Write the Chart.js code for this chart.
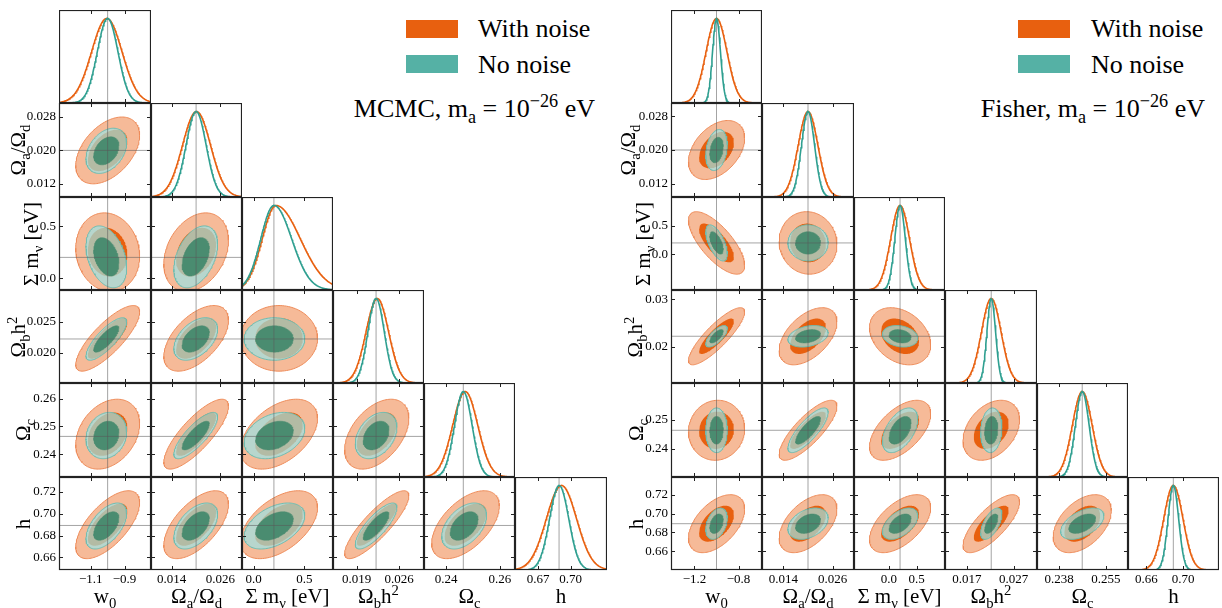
<!DOCTYPE html>
<html>
<head>
<meta charset="utf-8">
<title>Corner plots - MCMC vs Fisher</title>
<script src="https://cdn.jsdelivr.net/npm/chart.js@4.4.1/dist/chart.umd.min.js"></script>
<style>
  body { margin: 0; background: #fff; }
  #page { position: relative; width: 1222px; height: 608px; overflow: hidden;
          font-family: 'Liberation Serif', 'DejaVu Serif', serif; color: #000; }
  .cell { position: absolute; }
  .lbl { position: absolute; white-space: nowrap; font-size: 21px; line-height: 1;
         transform: translate(-50%, -50%); }
  .rot { transform: translate(-50%, -50%) rotate(-90deg); }
  .big { position: absolute; white-space: nowrap; font-size: 26px; line-height: 26px; }
  .sw { position: absolute; width: 52px; height: 18px; }
  sub, sup { font-size: 70%; line-height: 0; }
</style>
</head>
<body>
<div id="page"></div>
<script>
/* === Corner plots: MCMC (gauche) et Fisher (droite), m_a = 1e-26 eV === */

// Parametres (ordre des lignes / colonnes)
const paramLabels = ['w<sub>0</sub>', 'Ω<sub>a</sub>/Ω<sub>d</sub>', 'Σ m<sub>ν</sub> [eV]',
                     'Ω<sub>b</sub>h<sup>2</sup>', 'Ω<sub>c</sub>', 'h'];
const fiducial = [-1.0, 0.020, 0.20, 0.0222, 0.2464, 0.6893];
// paires (ligne, colonne) du triangle inferieur
const pairs = [[1,0],[2,0],[2,1],[3,0],[3,1],[3,2],[4,0],[4,1],[4,2],[4,3],[5,0],[5,1],[5,2],[5,3],[5,4]];

// --- MCMC ---
const mcmcMin = [-1.287, 0.0089, -0.115, 0.0151, 0.2318, 0.6485];
const mcmcMax = [-0.744, 0.0313, 0.783, 0.0301, 0.2656, 0.7337];
const mcmcXTicks = [[-1.1, -0.9], [0.014, 0.026], [0.0, 0.5], [0.019, 0.026], [0.24, 0.26], [0.67, 0.70]];
const mcmcXLabels = [['−1.1', '−0.9'], ['0.014', '0.026'], ['0.0', '0.5'], ['0.019', '0.026'], ['0.24', '0.26'], ['0.67', '0.70']];
const mcmcYTicks = [[], [0.012, 0.020, 0.028], [0.0, 0.5], [0.020, 0.025], [0.24, 0.25, 0.26], [0.66, 0.68, 0.70, 0.72]];
const mcmcYLabels = [[], ['0.012', '0.020', '0.028'], ['0.0', '0.5'], ['0.020', '0.025'], ['0.24', '0.25', '0.26'], ['0.66', '0.68', '0.70', '0.72']];
const mcmcCenterNoise = [-1.000, 0.0200, 0.250, 0.0223, 0.2472, 0.6900];
const mcmcCenterClean = [-1.008, 0.0199, 0.205, 0.0222, 0.2467, 0.6888];
const mcmcSigmaNoise = [0.077, 0.00325, 0.155, 0.00216, 0.00513, 0.0127];
const mcmcSigmaClean = [0.049, 0.00220, 0.122, 0.00140, 0.00340, 0.0086];
const mcmcRhoNoise = [0.45, -0.10, 0.30, 0.80, 0.55, 0.00, 0.30, 0.80, 0.45, 0.45, 0.65, 0.60, 0.50, 0.85, 0.55];
const mcmcRhoClean = [0.35, -0.35, 0.40, 0.80, 0.45, 0.00, 0.15, 0.80, 0.30, 0.35, 0.55, 0.50, 0.45, 0.80, 0.45];
// 1D : [pic, sigma gauche, sigma droite]
const mcmc1dNoise = [[-1.005, 0.090, 0.090], [0.0201, 0.00345, 0.00345], [0.22, 0.135, 0.24],
                     [0.0224, 0.00186, 0.00186], [0.2471, 0.00466, 0.00466], [0.6915, 0.0140, 0.0140]];
const mcmc1dClean = [[-1.000, 0.061, 0.061], [0.0200, 0.00248, 0.00248], [0.20, 0.13, 0.175],
                     [0.0222, 0.00135, 0.00135], [0.2464, 0.00327, 0.00327], [0.6894, 0.0089, 0.0089]];

// --- Fisher ---
const fisherMin = [-1.413, 0.0088, -0.63, 0.0123, 0.2300, 0.640];
const fisherMax = [-0.587, 0.0312, 1.01, 0.0320, 0.2630, 0.739];
const fisherXTicks = [[-1.2, -0.8], [0.014, 0.026], [0.0, 0.5], [0.017, 0.027], [0.238, 0.255], [0.66, 0.70]];
const fisherXLabels = [['−1.2', '−0.8'], ['0.014', '0.026'], ['0.0', '0.5'], ['0.017', '0.027'], ['0.238', '0.255'], ['0.66', '0.70']];
const fisherYTicks = [[], [0.012, 0.020, 0.028], [0.0, 0.5], [0.02, 0.03], [0.24, 0.25], [0.66, 0.68, 0.70, 0.72]];
const fisherYLabels = [[], ['0.012', '0.020', '0.028'], ['0.0', '0.5'], ['0.02', '0.03'], ['0.24', '0.25'], ['0.66', '0.68', '0.70', '0.72']];
const fisherSigmaNoise = [0.104, 0.00287, 0.225, 0.00247, 0.0043, 0.0126];
const fisherSigmaClean = [0.040, 0.00200, 0.130, 0.00093, 0.0032, 0.0068];
const fisherRhoNoise = [0.40, -0.72, -0.05, 0.85, 0.50, -0.30, 0.05, 0.80, 0.55, 0.35, 0.50, 0.50, 0.55, 0.75, 0.45];
const fisherRhoClean = [0.25, -0.62, 0.00, 0.70, 0.30, -0.20, 0.00, 0.80, 0.50, 0.10, 0.35, 0.35, 0.50, 0.60, 0.50];
const fisher1dNoise = [[-1.0, 0.095, 0.095], [0.020, 0.0024, 0.0024], [0.20, 0.17, 0.17],
                       [0.0222, 0.0021, 0.0021], [0.2464, 0.0036, 0.0036], [0.6893, 0.0105, 0.0105]];
const fisher1dClean = [[-1.0, 0.036, 0.036], [0.020, 0.0016, 0.0016], [0.20, 0.095, 0.095],
                       [0.0222, 0.00093, 0.00093], [0.2464, 0.0025, 0.0025], [0.6893, 0.0058, 0.0058]];

// Couleurs
const ORANGE = '#e8600f';
const ORANGE_LIGHT = '#f6ba98';
const ORANGE_EDGE = '#ee8c5a';
const TEAL_LINE = '#2e9f90';
const TEAL_SWATCH = '#55b1a5';
const TEAL_FILL = 'rgba(157,226,228,0.7)';
const TEAL_EDGE = '#6fbdb1';
const TEAL_DARK = '#4a8c70';
const FID = 'rgba(90,90,90,0.55)';

// Geometrie
const ROW_TOP = 10, ROW_H = 93.33, MB = 30;
const K_IN = 1.52, K_OUT = 2.45;
const TICK_FONT = { family: "'Liberation Serif', serif", size: 13 };

const page = document.getElementById('page');
Chart.defaults.font.family = "'Liberation Serif', serif";

const panels = [
  { x0: 59.3, w: 91.2, ml: 59, min: mcmcMin, max: mcmcMax,
    xTicks: mcmcXTicks, xLabels: mcmcXLabels, yTicks: mcmcYTicks, yLabels: mcmcYLabels,
    noise: { c: mcmcCenterNoise, s: mcmcSigmaNoise, rho: mcmcRhoNoise, m1: mcmc1dNoise },
    clean: { c: mcmcCenterClean, s: mcmcSigmaClean, rho: mcmcRhoClean, m1: mcmc1dClean },
    ylabX: [0, 18, 30.5, 17.5, 23, 23] },
  { x0: 671, w: 91.4, ml: 50, min: fisherMin, max: fisherMax,
    xTicks: fisherXTicks, xLabels: fisherXLabels, yTicks: fisherYTicks, yLabels: fisherYLabels,
    noise: { c: fiducial, s: fisherSigmaNoise, rho: fisherRhoNoise, m1: fisher1dNoise },
    clean: { c: fiducial, s: fisherSigmaClean, rho: fisherRhoClean, m1: fisher1dClean },
    ylabX: [0, 628, 642.5, 635, 635.5, 636] }
];

function edge(x0, w, i) { return Math.round(x0 + i * w); }

// Cadre + petites graduations vers l'interieur
const cellFrame = {
  id: 'cellFrame',
  afterDraw(chart, args, opts) {
    const { ctx, chartArea: a } = chart;
    const xs = chart.scales.x, ys = chart.scales.y;
    ctx.save();
    ctx.strokeStyle = '#222';
    ctx.lineWidth = 1;
    ctx.beginPath();
    (opts.xTicks || []).forEach(v => {
      const px = Math.round(xs.getPixelForValue(v)) + 0.5;
      ctx.moveTo(px, a.top); ctx.lineTo(px, a.top + 4);
      ctx.moveTo(px, a.bottom); ctx.lineTo(px, a.bottom - 4);
    });
    (opts.yTicks || []).forEach(v => {
      const py = Math.round(ys.getPixelForValue(v)) + 0.5;
      ctx.moveTo(a.left, py); ctx.lineTo(a.left + 4, py);
      ctx.moveTo(a.right, py); ctx.lineTo(a.right - 4, py);
    });
    ctx.stroke();
    ctx.lineWidth = 1.2;
    ctx.strokeRect(a.left + 0.5, a.top + 0.5, a.right - a.left - 1, a.bottom - a.top - 1);
    ctx.restore();
  }
};

// Ellipse de confiance : arc haut et arc bas (x croissant), remplis entre eux
function ellipseArcs(cx, cy, sx, sy, rho, k) {
  const upper = [], lower = [];
  const q = Math.sqrt(1 - rho * rho);
  const n = 64;
  for (let i = 0; i <= n; i++) {
    const t = Math.PI - Math.PI * i / n;
    const u = Math.PI + Math.PI * i / n;
    upper.push({ x: cx + k * sx * Math.cos(t), y: cy + k * sy * (rho * Math.cos(t) + q * Math.sin(t)) });
    lower.push({ x: cx + k * sx * Math.cos(u), y: cy + k * sy * (rho * Math.cos(u) + q * Math.sin(u)) });
  }
  return [upper, lower];
}

function contourSets(arcs, fillColor, edgeColor, bw, order) {
  return [
    { data: arcs[0], borderColor: edgeColor, borderWidth: bw, fill: false, order },
    { data: arcs[1], borderColor: edgeColor, borderWidth: bw, fill: '-1', backgroundColor: fillColor, order }
  ];
}

// Distribution 1D (gaussienne, eventuellement asymetrique)
function marginal(m, lo, hi) {
  const [mu, sL, sR] = m;
  const pts = [];
  for (let i = 0; i <= 160; i++) {
    const x = lo + (hi - lo) * i / 160;
    const s = x < mu ? sL : sR;
    pts.push({ x, y: Math.exp(-0.5 * ((x - mu) / s) ** 2) });
  }
  return pts;
}

function addCell(P, r, c) {
  const left = edge(P.x0, P.w, c), right = edge(P.x0, P.w, c + 1);
  const top = edge(ROW_TOP, ROW_H, r), bottom = edge(ROW_TOP, ROW_H, r + 1);
  const showY = c === 0 && r > 0;
  const showX = r === 5;
  const ml = showY ? P.ml : 0;
  const mb = showX ? MB : 0;

  const box = document.createElement('div');
  box.className = 'cell';
  const w = right - left + ml, h = bottom - top + mb;
  box.style.cssText = `left:${left - ml}px;top:${top}px;width:${w}px;height:${h}px`;
  const canvas = document.createElement('canvas');
  box.appendChild(canvas);
  page.appendChild(box);

  const diag = r === c;
  const datasets = [];
  const fidV = [{ x: fiducial[c], y: diag ? 0 : P.min[r] }, { x: fiducial[c], y: diag ? 1.1 : P.max[r] }];
  datasets.push({ data: fidV, borderColor: FID, borderWidth: 1, fill: false, order: diag ? 9 : 1 });

  if (diag) {
    datasets.push({ data: marginal(P.noise.m1[c], P.min[c], P.max[c]), borderColor: ORANGE, borderWidth: 1.6, fill: false, order: 3 });
    datasets.push({ data: marginal(P.clean.m1[c], P.min[c], P.max[c]), borderColor: TEAL_LINE, borderWidth: 1.6, fill: false, order: 2 });
  } else {
    const k = pairs.findIndex(p => p[0] === r && p[1] === c);
    const N = P.noise, C = P.clean;
    datasets.push({ data: [{ x: P.min[c], y: fiducial[r] }, { x: P.max[c], y: fiducial[r] }],
                    borderColor: FID, borderWidth: 1, fill: false, order: 1 });
    datasets.push(...contourSets(ellipseArcs(N.c[c], N.c[r], N.s[c], N.s[r], N.rho[k], K_OUT), ORANGE_LIGHT, ORANGE_EDGE, 1, 8));
    datasets.push(...contourSets(ellipseArcs(N.c[c], N.c[r], N.s[c], N.s[r], N.rho[k], K_IN), ORANGE, ORANGE, 0, 7));
    datasets.push(...contourSets(ellipseArcs(C.c[c], C.c[r], C.s[c], C.s[r], C.rho[k], K_OUT), TEAL_FILL, TEAL_EDGE, 1, 6));
    datasets.push(...contourSets(ellipseArcs(C.c[c], C.c[r], C.s[c], C.s[r], C.rho[k], K_IN), TEAL_DARK, TEAL_DARK, 0.5, 5));
  }

  new Chart(canvas, {
    type: 'line',
    data: { datasets },
    options: {
      responsive: true,
      maintainAspectRatio: false,
      animation: false,
      devicePixelRatio: 1,
      layout: { padding: 0, autoPadding: false },
      elements: { point: { radius: 0 }, line: { tension: 0 } },
      plugins: {
        legend: { display: false },
        tooltip: { enabled: false },
        cellFrame: { xTicks: P.xTicks[c], yTicks: diag ? [] : P.yTicks[r] }
      },
      scales: {
        x: {
          type: 'linear', position: 'bottom', min: P.min[c], max: P.max[c], display: showX,
          grid: { display: false, drawTicks: false }, border: { display: false },
          ticks: { autoSkip: false, maxRotation: 0, minRotation: 0, padding: 2, color: '#000', font: TICK_FONT,
                   callback: (v, i) => P.xLabels[c][i] },
          afterBuildTicks: s => { s.ticks = P.xTicks[c].map(v => ({ value: v })); },
          afterFit: s => { s.height = mb; s.paddingLeft = 0; s.paddingRight = 0; }
        },
        y: {
          type: 'linear', position: 'left', min: diag ? 0 : P.min[r], max: diag ? 1.1 : P.max[r], display: showY,
          grid: { display: false, drawTicks: false }, border: { display: false },
          ticks: { autoSkip: false, padding: 3, color: '#000', font: TICK_FONT,
                   callback: (v, i) => P.yLabels[r][i] },
          afterBuildTicks: s => { s.ticks = (diag ? [] : P.yTicks[r]).map(v => ({ value: v })); },
          afterFit: s => { s.width = ml; s.paddingTop = 0; s.paddingBottom = 0; }
        }
      }
    },
    plugins: [cellFrame]
  });
}

function addText(cls, html, css) {
  const d = document.createElement('div');
  d.className = cls;
  d.innerHTML = html;
  d.style.cssText = css;
  page.appendChild(d);
}

// Construction des deux triangles
panels.forEach(P => {
  for (let r = 0; r < 6; r++) {
    for (let c = 0; c <= r; c++) addCell(P, r, c);
  }
  for (let c = 0; c < 6; c++) {
    const cx = (edge(P.x0, P.w, c) + edge(P.x0, P.w, c + 1)) / 2;
    addText('lbl', paramLabels[c], `left:${cx}px;top:596px`);
  }
  for (let r = 1; r < 6; r++) {
    const cy = (edge(ROW_TOP, ROW_H, r) + edge(ROW_TOP, ROW_H, r + 1)) / 2;
    addText('lbl rot', paramLabels[r], `left:${P.ylabX[r]}px;top:${cy}px`);
  }
});

// Legendes et titres
[[406, 478, 627, 'MCMC'], [1018, 1091, 17, 'Fisher']].forEach(([sx, tx, rightPad, name]) => {
  addText('sw', '', `left:${sx}px;top:19.5px;background:${ORANGE}`);
  addText('sw', '', `left:${sx}px;top:55px;background:${TEAL_SWATCH}`);
  addText('big', 'With noise', `left:${tx}px;top:16px`);
  addText('big', 'No noise', `left:${tx}px;top:51.5px`);
  addText('big', `${name}, m<sub>a</sub> = 10<sup>−26</sup> eV`, `right:${rightPad}px;top:96px`);
});
</script>
</body>
</html>
